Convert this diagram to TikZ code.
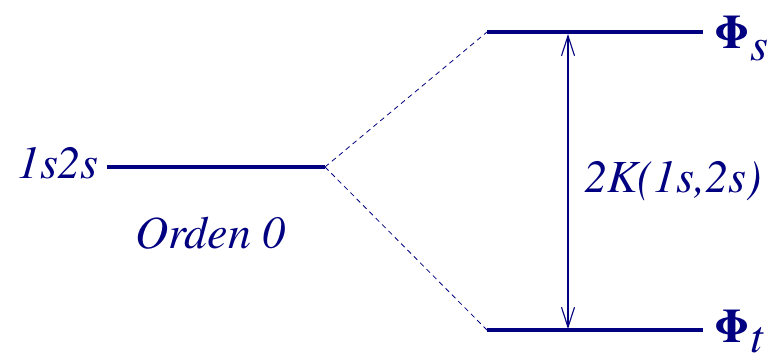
\documentclass[tikz,border=0pt]{standalone}
\usepackage{fontspec}
\setmainfont{TeX Gyre Termes}
\usetikzlibrary{arrows.meta}
\definecolor{navyc}{RGB}{0,0,128}
\begin{document}
\begin{tikzpicture}[x=1pt,y=1pt,
  level/.style={draw=navyc,line width=3.8pt},
  dashline/.style={draw=navyc,line width=0.8pt,dash pattern=on 5pt off 4pt},
  lbl/.style={text=navyc,inner sep=0pt,font=\fontsize{46}{50}\selectfont\itshape},
  karrow/.style={draw=navyc,line width=1.1pt,{Straight Barb[length=20pt,width=13pt,line width=1.1pt]}-{Straight Barb[length=20pt,width=13pt,line width=1.1pt]}}]
\useasboundingbox (0,0) rectangle (770,-362);
\coordinate (a1) at (107,-167);
\coordinate (a2) at (325,-167);
\coordinate (s1) at (487,-32);
\coordinate (s2) at (703,-32);
\coordinate (t1) at (487,-330);
\coordinate (t2) at (703,-330);
\coordinate (ka) at (568,-34);
\coordinate (kb) at (568,-329);
\draw[level] (a1) -- (a2);
\draw[level] (s1) -- (s2);
\draw[level] (t1) -- (t2);
\draw[dashline] (a2) -- (s1);
\draw[dashline] (a2) -- (t1);
\draw[karrow] (ka) -- (kb);
\node[lbl,anchor=base east] (l1s2s) at (99,-178) {1s2s};
\node[lbl,anchor=base west] (lorden) at (135,-248) {Orden 0};
\node[lbl,anchor=base west] (lk) at (584,-192) {2K(1s,2s)};
\node[lbl,anchor=base west] (lphis) at (714,-48) {{\upshape\bfseries\fontsize{48}{50}\selectfont Φ}\kern1pt\raisebox{-12pt}{\itshape s}};
\node[lbl,anchor=base west] (lphit) at (714,-342) {{\upshape\bfseries\fontsize{48}{50}\selectfont Φ}\kern1pt\raisebox{-10pt}{\itshape t}};
\end{tikzpicture}
\end{document}
